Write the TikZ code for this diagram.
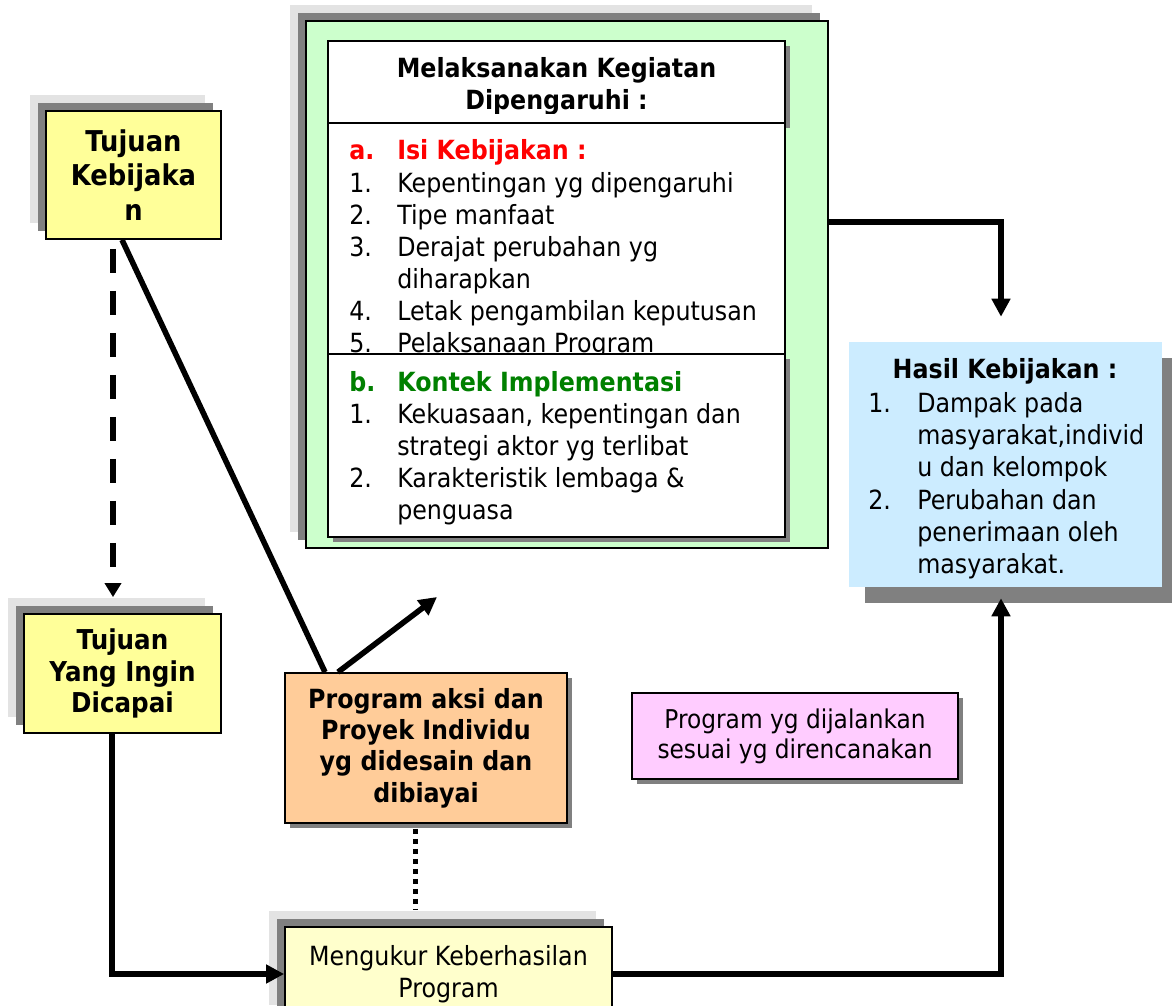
\documentclass[tikz,border=0pt]{standalone}
\usepackage{fontspec}
\setmainfont{DejaVu Sans}[FakeStretch=0.9]
\usetikzlibrary{arrows.meta,calc,shadows,positioning}

\definecolor{tjyellow}{HTML}{FFFF99}
\definecolor{mkyellow}{HTML}{FFFFCC}
\definecolor{kgreen}{HTML}{CCFFCC}
\definecolor{hblue}{HTML}{CCECFF}
\definecolor{paorange}{HTML}{FFCC99}
\definecolor{pgpink}{HTML}{FFCCFF}
\definecolor{shdark}{HTML}{808080}
\definecolor{shlight}{HTML}{E3E3E3}
\definecolor{isired}{HTML}{FF0000}
\definecolor{kongreen}{HTML}{008000}

\tikzset{
  box/.style={draw=black,line width=1.3pt,inner sep=0pt,align=center},
  dblshadow/.style={general shadow={fill=shlight,shadow xshift=-12pt,shadow yshift=12pt},
                    general shadow={fill=shdark,shadow xshift=-6pt,shadow yshift=6pt}},
  smshadow/.style={general shadow={fill=shdark,shadow xshift=3.75pt,shadow yshift=-3.75pt}},
  bigshadow/.style={general shadow={fill=shdark,shadow xshift=12pt,shadow yshift=-12pt}},
  txt/.style={inner sep=0pt,anchor=base west,font=\fontsize{19.8}{24}\selectfont},
  hdtxt/.style={inner sep=0pt,anchor=base,font=\fontsize{19.8}{24}\selectfont\bfseries},
  conn/.style={line width=4.2pt},
  arr/.style={conn,-{Triangle[length=13.5pt,width=13.5pt]}},
}

\begin{document}
\begin{tikzpicture}[x=0.75pt,y=-0.75pt]
\useasboundingbox (0,0) rectangle (1172,1006);

% left column
\node[box,dblshadow,fill=tjyellow,minimum width=175*0.75pt,minimum height=128*0.75pt,
  font=\fontsize{21.5}{26}\selectfont\bfseries] (tk) at (133.5,175) {Tujuan\\Kebijaka\\n};
\node[box,dblshadow,fill=tjyellow,minimum width=197*0.75pt,minimum height=119*0.75pt,
  font=\fontsize{20.5}{23.5}\selectfont\bfseries] (ty) at (122.5,673.5) {Tujuan\\Yang Ingin\\Dicapai};

% green block
\node[box,dblshadow,fill=kgreen,minimum width=522*0.75pt,minimum height=527*0.75pt] (gb) at (567,284.5) {};
\node[box,line width=1.5pt,smshadow,fill=white,minimum width=457*0.75pt,minimum height=82*0.75pt] (hd) at (556.5,82) {};
\begin{scope}
  \clip (hd.north west) rectangle ([yshift=7.5pt]hd.south east);
  \node[hdtxt] (hd1) at (556.5,78) {Melaksanakan Kegiatan};
  \node[hdtxt] (hd2) at (556.5,110) {Dipengaruhi :};
\end{scope}
\node[box,line width=1.5pt,fill=white,minimum width=457*0.75pt,minimum height=231*0.75pt] (ba) at (556.5,238.5) {};
\node[txt,text=isired,font=\fontsize{19.8}{24}\selectfont\bfseries] (ana) at (349,160) {a.};
\node[txt,text=isired,font=\fontsize{19.8}{24}\selectfont\bfseries] (ata) at (397,160) {Isi Kebijakan :};
\foreach \y/\n/\t [count=\i] in {192/1./Kepentingan yg dipengaruhi, 224/2./Tipe manfaat,
    256/3./Derajat perubahan yg, 288//diharapkan, 320/4./Letak pengambilan keputusan,
    352/5./Pelaksanaan Program}{
  \node[txt] (an\i) at (349,\y) {\n};
  \node[txt] (at\i) at (397,\y) {\t};
}
\node[box,line width=1.5pt,smshadow,fill=white,minimum width=457*0.75pt,minimum height=183*0.75pt] (bb) at (556.5,445.5) {};
\node[txt,text=kongreen,font=\fontsize{19.8}{24}\selectfont\bfseries] (bnb) at (349,391) {b.};
\node[txt,text=kongreen,font=\fontsize{19.8}{24}\selectfont\bfseries] (btb) at (397,391) {Kontek Implementasi};
\foreach \y/\n/\t [count=\i] in {423/1./{Kekuasaan, kepentingan dan}, 455//strategi aktor yg terlibat,
    487/2./Karakteristik lembaga \&, 519//penguasa}{
  \node[txt] (bn\i) at (349,\y) {\n};
  \node[txt] (bt\i) at (397,\y) {\t};
}

% result block
\node[fill=hblue,bigshadow,inner sep=0pt,minimum width=313*0.75pt,minimum height=245*0.75pt] (hk) at (1005.5,464.5) {};
\node[hdtxt] (hkt) at (1005,378) {Hasil Kebijakan :};
\foreach \y/\n/\t [count=\i] in {412/1./Dampak pada, 444//{masyarakat,individ}, 476//u dan kelompok,
    509/2./Perubahan dan, 541//penerimaan oleh, 573//masyarakat.}{
  \node[txt] (hn\i) at (868,\y) {\n};
  \node[txt] (ht\i) at (917,\y) {\t};
}

% lower boxes
\node[box,smshadow,fill=paorange,minimum width=282*0.75pt,minimum height=150*0.75pt,
  font=\fontsize{19.8}{23.5}\selectfont\bfseries] (pa) at (426,748)
  {Program aksi dan\\Proyek Individu\\yg didesain dan\\dibiayai};
\node[box,smshadow,fill=pgpink,minimum width=326*0.75pt,minimum height=86*0.75pt,
  font=\fontsize{19.4}{22.5}\selectfont] (pg) at (795,736)
  {Program yg dijalankan\\sesuai yg direncanakan};
\node[box,dblshadow,fill=mkyellow,minimum width=327*0.75pt,minimum height=94*0.75pt,
  font=\fontsize{19.8}{24}\selectfont] (mk) at (448.5,974)
  {Mengukur Keberhasilan\\Program};

% connectors
\coordinate (aim) at (437,597);
\draw[line width=4.5pt,dash pattern=on 18pt off 13.5pt,dash phase=24.75pt,
  -{Triangle[length=10.5pt,width=12pt]}] (113,0 |- tk.south) -- ([yshift=12pt]113,0 |- ty.north);
\draw[conn] (122,0 |- tk.south) -- (325,0 |- pa.north);
\draw[arr] (338,0 |- pa.north) -- (aim);
\draw[arr] (112,0 |- ty.south) |- (mk.west);
\draw[line width=3.75pt,dash pattern=on 3.75pt off 3.75pt] ([yshift=-3.75pt]415,0 |- pa.south) -- ([yshift=12.75pt]415,0 |- mk.north);
\draw[arr] (mk.east) -| ($(hk.south)+(-4.5,11)$);
\draw[arr] (gb.east |- 0,222) -| ($(hk.north)+(-4.5,-25)$);
\end{tikzpicture}
\end{document}
